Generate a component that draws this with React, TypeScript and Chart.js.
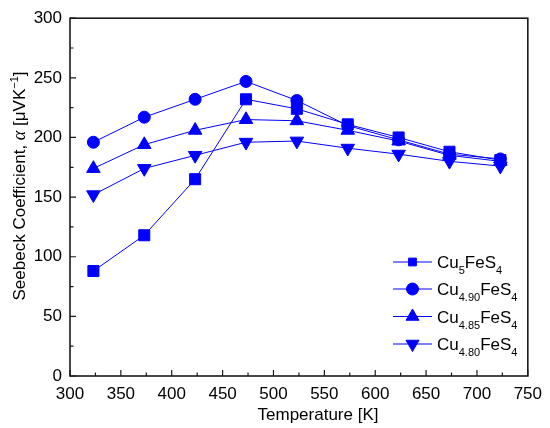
import { useEffect, useRef } from 'react';
import { Chart, registerables, type ChartConfiguration, type Plugin } from 'chart.js';
import { drawPoint } from 'chart.js/helpers';

Chart.register(...registerables);

// Temperature [K]
const temperatures = [323, 373, 423, 473, 523, 573, 623, 673, 723];
// Seebeck coefficient [μV/K]
const cu500 = [88, 118, 165, 232, 224, 211, 200, 188, 181];
const cu490 = [196, 217, 232, 247, 231, 210, 198, 186, 182];
const cu485 = [174, 194, 206, 215, 214, 206, 197, 185, 180];
const cu480 = [152, 174, 185, 196, 197, 191, 186, 180, 176];

const seriesSubs = ['5', '4.90', '4.85', '4.80'];
const xTicks = [300, 350, 400, 450, 500, 550, 600, 650, 700, 750];
const yTicks = [0, 50, 100, 150, 200, 250, 300];

const FONT = "'Liberation Sans', Arial, sans-serif";
const BLUE = '#0000ff';

const markers = [
  { pointStyle: 'rect', radius: 7.8, rotation: 0, legendRadius: 5.5 },
  { pointStyle: 'circle', radius: 6, rotation: 0, legendRadius: 6 },
  { pointStyle: 'triangle', radius: 7.8, rotation: 0, legendRadius: 7.5 },
  { pointStyle: 'triangle', radius: 7.8, rotation: 180, legendRadius: 7.5 },
];

type Part = { text: string; size: number; dy?: number; italic?: boolean };

function drawRich(ctx: CanvasRenderingContext2D, parts: Part[], x: number, y: number, align: 'left' | 'center') {
  let total = 0;
  const widths = parts.map((p) => {
    ctx.font = `${p.italic ? 'italic ' : ''}${p.size}px ${p.italic ? "'Liberation Serif', serif" : FONT}`;
    const w = ctx.measureText(p.text).width;
    total += w;
    return w;
  });
  let cx = align === 'center' ? x - total / 2 : x;
  ctx.textAlign = 'left';
  ctx.textBaseline = 'alphabetic';
  parts.forEach((p, i) => {
    ctx.font = `${p.italic ? 'italic ' : ''}${p.size}px ${p.italic ? "'Liberation Serif', serif" : FONT}`;
    ctx.fillText(p.text, cx, y + (p.dy ?? 0));
    cx += widths[i];
  });
}

const decorPlugin: Plugin<'line'> = {
  id: 'decor',
  afterDraw(chart) {
    const { ctx, chartArea: a, scales } = chart;
    const xs = scales.x;
    const ys = scales.y;
    ctx.save();
    ctx.strokeStyle = '#1a1a1a';
    ctx.fillStyle = '#000';

    // inward ticks, major + minor
    ctx.lineWidth = 1.2;
    ctx.beginPath();
    for (let i = 0; i < xTicks.length; i++) {
      const px = xs.getPixelForValue(xTicks[i]);
      ctx.moveTo(px, a.bottom);
      ctx.lineTo(px, a.bottom - 6);
      if (i < xTicks.length - 1) {
        const mx = xs.getPixelForValue((xTicks[i] + xTicks[i + 1]) / 2);
        ctx.moveTo(mx, a.bottom);
        ctx.lineTo(mx, a.bottom - 3.5);
      }
    }
    for (let i = 0; i < yTicks.length; i++) {
      const py = ys.getPixelForValue(yTicks[i]);
      ctx.moveTo(a.left, py);
      ctx.lineTo(a.left + 6, py);
      if (i < yTicks.length - 1) {
        const my = ys.getPixelForValue((yTicks[i] + yTicks[i + 1]) / 2);
        ctx.moveTo(a.left, my);
        ctx.lineTo(a.left + 3.5, my);
      }
    }
    ctx.stroke();

    // frame
    ctx.lineWidth = 1.6;
    ctx.strokeRect(a.left, a.top, a.right - a.left, a.bottom - a.top);

    // axis titles
    drawRich(ctx, [{ text: 'Temperature [K]', size: 17 }], 318, 420, 'center');
    ctx.save();
    ctx.translate(25, 186);
    ctx.rotate(-Math.PI / 2);
    drawRich(
      ctx,
      [
        { text: 'Seebeck Coefficient, ', size: 17 },
        { text: 'α', size: 18, italic: true },
        { text: ' [μVK', size: 17 },
        { text: '−1', size: 11, dy: -7 },
        { text: ']', size: 17 },
      ],
      0,
      0,
      'center',
    );
    ctx.restore();

    // legend
    const rows = [262, 289, 316.5, 344];
    rows.forEach((ry, i) => {
      ctx.strokeStyle = BLUE;
      ctx.fillStyle = BLUE;
      ctx.lineWidth = 1;
      ctx.beginPath();
      ctx.moveTo(393, ry);
      ctx.lineTo(432, ry);
      ctx.stroke();
      const m = markers[i];
      drawPoint(
        ctx,
        { pointStyle: m.pointStyle as any, radius: m.legendRadius, rotation: m.rotation, borderWidth: 1 },
        412.5,
        ry,
      );
      ctx.fillStyle = '#000';
      drawRich(
        ctx,
        [
          { text: 'Cu', size: 17 },
          { text: seriesSubs[i], size: 11, dy: 6 },
          { text: 'FeS', size: 17 },
          { text: '4', size: 11, dy: 6 },
        ],
        437,
        ry + 6,
        'left',
      );
    });
    ctx.restore();
  },
};

function makeDataset(label: string, values: number[], idx: number) {
  const m = markers[idx];
  return {
    label,
    data: values.map((v, i) => ({ x: temperatures[i], y: v })),
    borderColor: BLUE,
    backgroundColor: BLUE,
    borderWidth: 1,
    pointStyle: m.pointStyle as any,
    pointRadius: m.radius,
    pointRotation: m.rotation,
    pointBorderWidth: 1,
    pointBackgroundColor: BLUE,
    pointBorderColor: BLUE,
    tension: 0,
  };
}

function SeebeckChart() {
  const canvasRef = useRef<HTMLCanvasElement | null>(null);
  const chartRef = useRef<Chart<'line'> | null>(null);

  useEffect(() => {
    if (!canvasRef.current) return;
    const tickFont = { family: FONT, size: 17 };
    const config: ChartConfiguration<'line'> = {
      type: 'line',
      data: {
        datasets: [
          makeDataset('Cu5FeS4', cu500, 0),
          makeDataset('Cu4.90FeS4', cu490, 1),
          makeDataset('Cu4.85FeS4', cu485, 2),
          makeDataset('Cu4.80FeS4', cu480, 3),
        ] as any,
      },
      options: {
        animation: false,
        responsive: true,
        maintainAspectRatio: false,
        layout: { padding: { top: 13, right: 18, left: 0, bottom: 0 } },
        scales: {
          x: {
            type: 'linear',
            min: 300,
            max: 750,
            ticks: { stepSize: 50, padding: 8, color: '#000', font: tickFont, maxRotation: 0 },
            grid: { display: false, drawTicks: false },
            border: { display: false },
            afterFit: (s) => {
              s.height = 52;
            },
          },
          y: {
            min: 0,
            max: 300,
            ticks: { stepSize: 50, padding: 8, color: '#000', font: tickFont },
            grid: { display: false, drawTicks: false },
            border: { display: false },
            afterFit: (s) => {
              s.width = 70;
            },
          },
        },
        plugins: {
          legend: { display: false },
          tooltip: { enabled: false },
        },
      },
      plugins: [decorPlugin],
    };

    chartRef.current = new Chart(canvasRef.current, config);

    return () => {
      chartRef.current?.destroy();
      chartRef.current = null;
    };
  }, []);

  return <canvas ref={canvasRef} />;
}

export default function App() {
  return (
    <div style={{ position: 'absolute', left: 0, top: 0, width: 550, height: 428, background: '#fff' }}>
      <SeebeckChart />
    </div>
  );
}
